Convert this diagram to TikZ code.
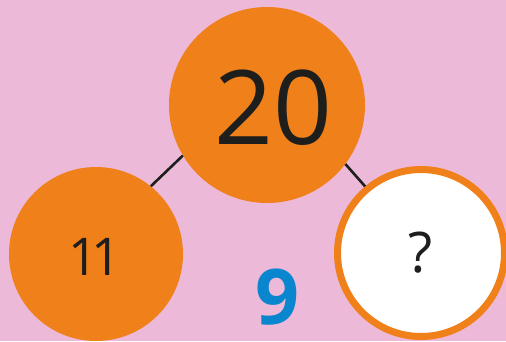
\documentclass[tikz,border=0pt]{standalone}
\usepackage{fontspec}
\setmainfont{Open Sans}
\definecolor{bgpink}{HTML}{EDB9D9}
\definecolor{numorange}{HTML}{F08019}
\definecolor{numblue}{HTML}{0A86CF}
\definecolor{inkdark}{HTML}{1E1E1C}
\tikzset{
  part/.style={circle,fill=numorange,inner sep=0pt,text=inkdark},
  gap/.style={circle,fill=white,draw=numorange,line width=7pt,inner sep=0pt,text=inkdark},
  bond/.style={draw=inkdark,line width=2.6pt}
}
\begin{document}
\begin{tikzpicture}[x=1pt,y=-1pt]
\fill[bgpink] (0,0) rectangle (506,341);
\useasboundingbox (0,0) rectangle (506,341);
\node[part,minimum size=196pt] (whole) at (267,105) {};
\node[font=\fontsize{103}{103}\selectfont,text=inkdark] (wholenum) at (273,108) {20};
\node[part,minimum size=174pt] (left) at (96,254) {};
\node[font=\fontsize{52}{52}\selectfont,text=inkdark] (leftnum) at (95,257) {1\kern-7pt1};
\node[gap,minimum size=167pt,font=\fontsize{56}{56}\selectfont] (right) at (421,253) {?};
\draw[bond] (left.51) -- (whole.211);
\draw[bond] (whole.323) -- (right.130);
\node[font=\fontsize{77}{77}\selectfont\bfseries,text=numblue] (answer) at (277,297) {9};
\end{tikzpicture}
\end{document}
